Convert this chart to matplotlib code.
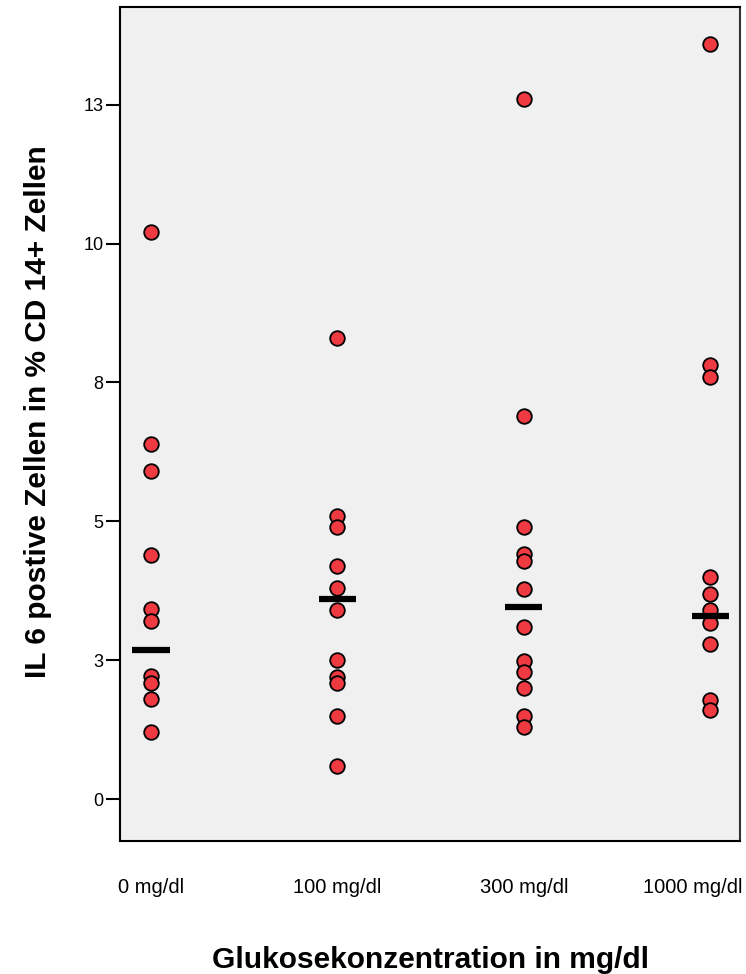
import matplotlib
matplotlib.use("Agg")
import matplotlib.pyplot as plt
import matplotlib.transforms as mtransforms

plt.rcParams["font.family"] = ["Liberation Sans", "DejaVu Sans"]

# data
groups = ["0 mg/dl", "100 mg/dl", "300 mg/dl", "1000 mg/dl"]
g0 = [10.2, 6.40, 5.90, 4.39, 3.42, 3.20, 2.21, 2.09, 1.80, 1.20]
g100 = [8.30, 5.10, 4.89, 4.20, 3.80, 3.40, 2.50, 2.19, 2.09, 1.49, 0.59]
g300 = [12.60, 6.89, 4.90, 4.42, 4.29, 3.79, 3.10, 2.49, 2.29, 1.99, 1.49, 1.29]
g1000 = [13.60, 7.81, 7.60, 3.99, 3.69, 3.41, 3.17, 2.79, 1.78, 1.60]
centre_line = [2.69, 3.60, 3.45, 3.30]

ytick_pos = [0, 2.5, 5, 7.5, 10, 12.5]
ytick_labels = ["0", "3", "5", "8", "10", "13"]

series = [g0, g100, g300, g1000]

fig = plt.figure(figsize=(7.46, 9.74), dpi=100)
ax = fig.add_axes([120 / 746, (974 - 840.5) / 974, 620 / 746, 833.5 / 974])
ax.set_facecolor("#f0f0f0")

for i, vals in enumerate(series):
    ax.plot([i] * len(vals), vals, "o", markersize=10.5, markerfacecolor="#ee3a40",
            markeredgecolor="black", markeredgewidth=1.3, linestyle="none", zorder=3)
    ax.plot([i - 0.1, i + 0.1], [centre_line[i], centre_line[i]], color="black",
            linewidth=4.5, solid_capstyle="butt", zorder=4)

ax.set_xlim(-0.166, 3.16)
ax.set_ylim(-0.747, 14.26)
ax.set_xticks(range(len(groups)))
ax.set_xticklabels(groups, fontsize=14.5)
ax.set_yticks(ytick_pos)
ax.set_yticklabels(ytick_labels, fontsize=13)
ax.tick_params(axis="x", length=0, pad=27)
ax.tick_params(axis="y", length=10, width=1.5, pad=2, direction="out")

# last label sits at the right edge of the picture, nudge it in a little
last = ax.get_xticklabels()[-1]
last.set_transform(last.get_transform() + mtransforms.ScaledTranslation(-0.17, 0, fig.dpi_scale_trans))

for side in ["left", "bottom", "top"]:
    ax.spines[side].set_linewidth(1.5)
    ax.spines[side].set_color("black")
ax.spines["right"].set_linewidth(1.5)
ax.spines["right"].set_color("#333333")

ax.set_xlabel("Glukosekonzentration in mg/dl", fontsize=21.5, fontweight="bold", va="top")
ax.xaxis.set_label_coords(0.5, -0.126)
ax.set_ylabel("IL 6 postive Zellen in % CD 14+ Zellen", fontsize=21.5, fontweight="bold")
ax.yaxis.set_label_coords(-0.11, 0.514)

fig.savefig("out.png", dpi=100)
